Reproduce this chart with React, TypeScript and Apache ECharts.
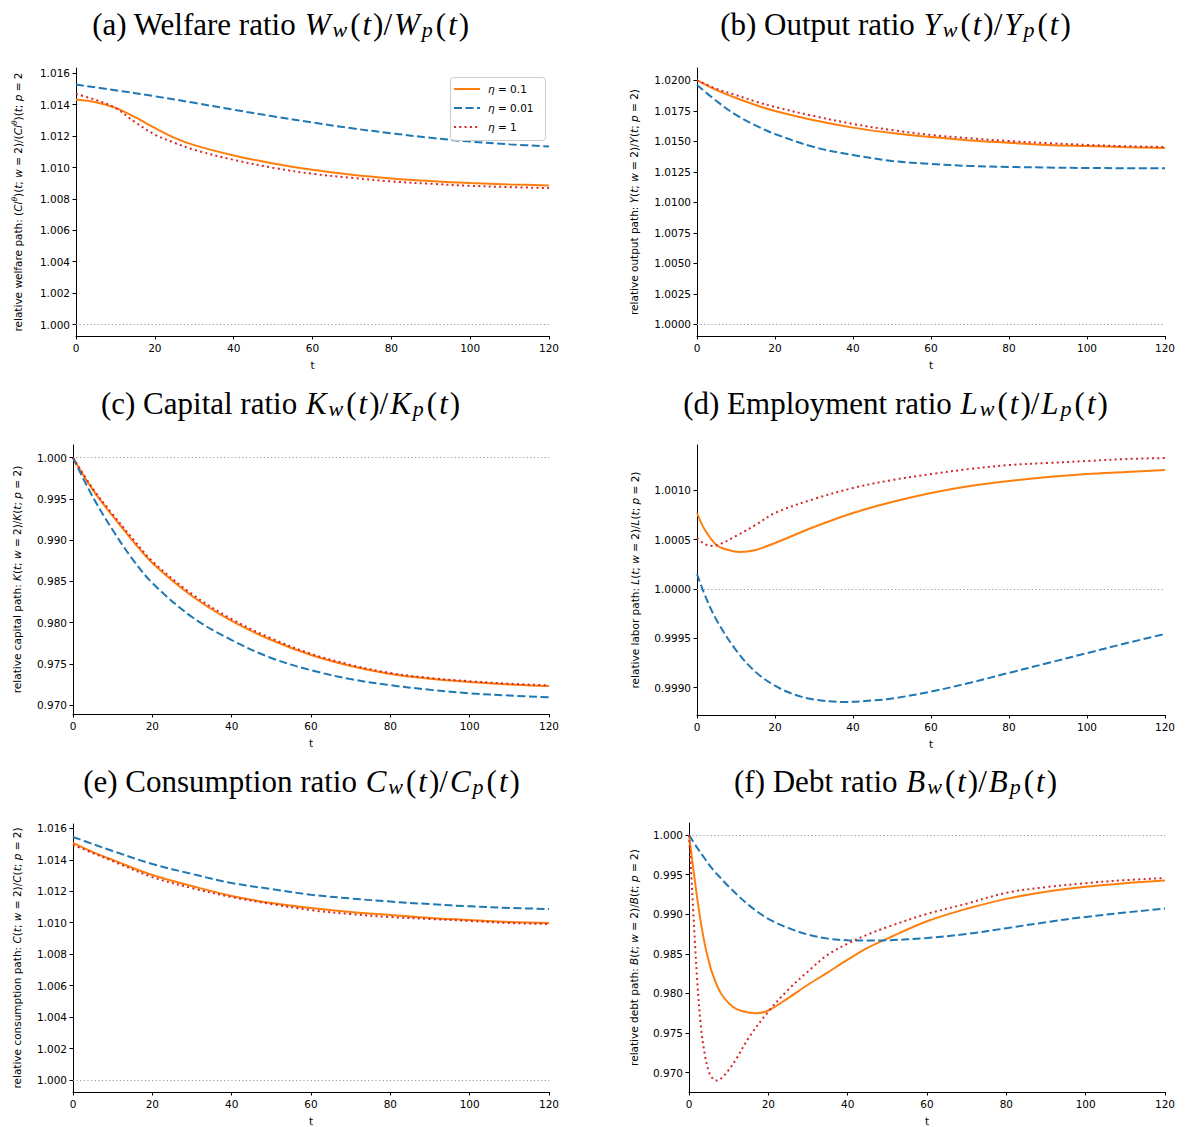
import React, { useEffect, useRef } from 'react';
import * as echarts from 'echarts';

// ---------- data ----------
const SERIES_NAMES = ['η = 0.1', 'η = 0.01', 'η = 1'];

// (a) welfare ratio
const A_T = [0, 5, 10, 15, 20, 25, 30, 40, 50, 60, 70, 80, 90, 100, 110, 120];
const A_ETA01 = [1.014326, 1.014156, 1.013796, 1.013203, 1.01252, 1.011889, 1.011423, 1.010766, 1.010257, 1.009854, 1.009536, 1.009303, 1.009134, 1.009007, 1.008922, 1.008858];
const A_ETA1 = [1.014686, 1.014305, 1.013796, 1.012885, 1.012101, 1.011571, 1.011126, 1.01049, 1.009982, 1.0096, 1.009346, 1.009113, 1.008964, 1.008837, 1.008752, 1.008689];
const A_T_B = [0, 10, 20, 30, 40, 50, 60, 70, 80, 90, 100, 110, 120];
const A_ETA001 = [1.01528, 1.01492, 1.01454, 1.01412, 1.01368, 1.01326, 1.01287, 1.0125, 1.01218, 1.01189, 1.01165, 1.01148, 1.01134];

// (b) output ratio
const B_T = [0, 5, 10, 15, 20, 30, 40, 50, 60, 70, 80, 90, 100, 110, 120];
const B_ETA01 = [1.02002, 1.0192, 1.01855, 1.01798, 1.01748, 1.01672, 1.01612, 1.01568, 1.01535, 1.01507, 1.01488, 1.0147, 1.01461, 1.01452, 1.01445];
const B_ETA001 = [1.01961, 1.0183, 1.01716, 1.0163, 1.0156, 1.01453, 1.01388, 1.01339, 1.01314, 1.01298, 1.0129, 1.01285, 1.01281, 1.0128, 1.0128];
const B_ETA1 = [1.0200, 1.0193, 1.01879, 1.01826, 1.01781, 1.01707, 1.01642, 1.01592, 1.01552, 1.01525, 1.01502, 1.01485, 1.0147, 1.0146, 1.01453];

// (c) capital ratio
const C_T = [0, 5, 10, 15, 20, 30, 40, 50, 60, 70, 80, 90, 100, 110, 120];
const C_ETA01 = [1.0, 0.99609, 0.99293, 0.98995, 0.98723, 0.98322, 0.98019, 0.97788, 0.97606, 0.97473, 0.97376, 0.97318, 0.97279, 0.9725, 0.9723];
const C_ETA001 = [1.0, 0.99523, 0.99123, 0.9877, 0.9848, 0.98067, 0.97788, 0.9757, 0.97422, 0.97314, 0.9724, 0.97185, 0.97142, 0.97115, 0.97094];
const C_ETA1 = [1.0, 0.99625, 0.99315, 0.9902, 0.98745, 0.98345, 0.98043, 0.97808, 0.97622, 0.97487, 0.97388, 0.97328, 0.97288, 0.97258, 0.97238];

// (d) employment ratio
const D_T_O = [0, 2, 5, 8, 11, 15, 20, 30, 40, 50, 60, 70, 80, 90, 100, 110, 120];
const D_ETA01 = [1.00077, 1.0006, 1.000446, 1.000395, 1.000375, 1.000395, 1.000466, 1.000628, 1.00077, 1.000881, 1.000973, 1.001044, 1.001094, 1.001135, 1.001165, 1.001185, 1.001206];
const D_T_B = [0, 2, 5, 10, 15, 20, 25, 30, 38, 45, 50, 60, 70, 80, 90, 100, 110, 120];
const D_ETA001 = [1.000152, 0.99994, 0.999686, 0.99938, 0.99916, 0.99902, 0.99893, 0.99888, 0.998855, 0.99887, 0.99889, 0.99896, 0.99905, 0.99915, 0.99925, 0.99935, 0.99945, 0.999544];
const D_T_R = [0, 2, 4, 6, 10, 15, 20, 30, 40, 50, 60, 70, 80, 90, 100, 110, 120];
const D_ETA1 = [1.000517, 1.000456, 1.000436, 1.000456, 1.000537, 1.000648, 1.00077, 1.000912, 1.001023, 1.001104, 1.001165, 1.001216, 1.001256, 1.001277, 1.001297, 1.001317, 1.001327];

// (e) consumption ratio
const E_T = [0, 5, 10, 20, 30, 40, 50, 60, 70, 80, 90, 100, 110, 120];
const E_ETA01 = [1.01507, 1.01449, 1.01399, 1.01303, 1.01233, 1.0117, 1.01125, 1.01093, 1.01068, 1.01049, 1.0103, 1.01017, 1.01004, 1.00998];
const E_ETA001 = [1.01545, 1.015, 1.01456, 1.01373, 1.0131, 1.01252, 1.01214, 1.01178, 1.01154, 1.01134, 1.01118, 1.01104, 1.01094, 1.01087];
const E_ETA1 = [1.01494, 1.01443, 1.01392, 1.0129, 1.0122, 1.01163, 1.01119, 1.0108, 1.01055, 1.01036, 1.01023, 1.01011, 1.00998, 1.00992];

// (f) debt ratio
const F_T_O = [0, 1, 2, 3, 4, 5, 6, 8, 10, 12, 15, 17, 20, 25, 30, 35, 40, 45, 50, 60, 70, 80, 90, 100, 110, 120];
const F_ETA01 = [1.0, 0.99608, 0.99228, 0.9889, 0.98616, 0.98405, 0.98236, 0.98004, 0.97878, 0.97802, 0.9776, 0.97751, 0.97785, 0.97941, 0.9811, 0.98266, 0.98426, 0.98574, 0.98692, 0.98911, 0.99068, 0.99194, 0.99283, 0.99346, 0.99392, 0.99426];
const F_T_B = [0, 2, 4, 6, 8, 10, 15, 20, 25, 30, 35, 40, 45, 50, 60, 70, 80, 90, 100, 110, 120];
const F_ETA001 = [1.0, 0.99844, 0.997, 0.99565, 0.99456, 0.9935, 0.99118, 0.98941, 0.98827, 0.98743, 0.98692, 0.98671, 0.98667, 0.98671, 0.987, 0.98751, 0.98823, 0.98899, 0.98966, 0.99021, 0.99072];
const F_T_R = [0, 0.5, 1, 2, 3, 4, 5, 6, 7, 8, 10, 12, 15, 20, 25, 30, 35, 40, 45, 50, 60, 70, 80, 90, 100, 110, 120];
const F_ETA1 = [1.0, 0.99565, 0.99101, 0.98215, 0.97582, 0.97224, 0.97013, 0.96925, 0.969, 0.96922, 0.97034, 0.97181, 0.97435, 0.97772, 0.98046, 0.98278, 0.98489, 0.98629, 0.98743, 0.98838, 0.99004, 0.99133, 0.9927, 0.99342, 0.99392, 0.9943, 0.99456];

// tick labels
const X_TICKS = [0, 20, 40, 60, 80, 100, 120];
const A_TICKS = [1.0, 1.002, 1.004, 1.006, 1.008, 1.01, 1.012, 1.014, 1.016];
const B_TICKS = [1.0, 1.0025, 1.005, 1.0075, 1.01, 1.0125, 1.015, 1.0175, 1.02];
const C_TICKS = [0.97, 0.975, 0.98, 0.985, 0.99, 0.995, 1.0];
const D_TICKS = [0.999, 0.9995, 1.0, 1.0005, 1.001];
const E_TICKS = [1.0, 1.002, 1.004, 1.006, 1.008, 1.01, 1.012, 1.014, 1.016];
const F_TICKS = [0.97, 0.975, 0.98, 0.985, 0.99, 0.995, 1.0];

// ---------- styling ----------
const ORANGE = '#ff7f0e';
const BLUE = '#1f77b4';
const RED = '#d62728';
const SANS = 'DejaVu Sans';
const SERIF = 'Liberation Serif';

const pair = (t: number[], v: number[]) => t.map((x, i) => [x, v[i]]);

const panels = [
  {
    grid: { left: 76, top: 68, width: 473, height: 268 }, ymin: 0.999268, ymax: 1.016338, ticks: A_TICKS, dec: 3, gap: 51,
    yname: 'relative welfare path: ({i|Cl}{s|θ})({i|t}; {i|w} = 2)/({i|Cl}{s|θ})({i|t}; {i|p} = 2',
    title: ['(a) Welfare ratio ', 'W'], tx: 281, ty: 24,
    lines: [pair(A_T, A_ETA01), pair(A_T_B, A_ETA001), pair(A_T, A_ETA1)],
  },
  {
    grid: { left: 697, top: 68, width: 468, height: 268 }, ymin: 0.999041, ymax: 1.021008, ticks: B_TICKS, dec: 4, gap: 58,
    yname: 'relative output path: {i|Y}({i|t}; {i|w} = 2)/{i|Y}({i|t}; {i|p} = 2)',
    title: ['(b) Output ratio ', 'Y'], tx: 896, ty: 24,
    lines: [pair(B_T, B_ETA01), pair(B_T, B_ETA001), pair(B_T, B_ETA1)],
  },
  {
    grid: { left: 73, top: 445, width: 476, height: 269 }, ymin: 0.968907, ymax: 1.001541, ticks: C_TICKS, dec: 3, gap: 51,
    yname: 'relative capital path: {i|K}({i|t}; {i|w} = 2)/{i|K}({i|t}; {i|p} = 2)',
    title: ['(c) Capital ratio ', 'K'], tx: 281, ty: 403,
    lines: [pair(C_T, C_ETA01), pair(C_T, C_ETA001), pair(C_T, C_ETA1)],
  },
  {
    grid: { left: 697, top: 445, width: 468, height: 270 }, ymin: 0.998723, ymax: 1.001459, ticks: D_TICKS, dec: 4, gap: 57,
    yname: 'relative labor path: {i|L}({i|t}; {i|w} = 2)/{i|L}({i|t}; {i|p} = 2)',
    title: ['(d) Employment ratio ', 'L'], tx: 896, ty: 403,
    lines: [pair(D_T_O, D_ETA01), pair(D_T_B, D_ETA001), pair(D_T_R, D_ETA1)],
  },
  {
    grid: { left: 73, top: 824, width: 476, height: 268 }, ymin: 0.999237, ymax: 1.016274, ticks: E_TICKS, dec: 3, gap: 51,
    yname: 'relative consumption path: {i|C}({i|t}; {i|w} = 2)/{i|C}({i|t}; {i|p} = 2)',
    title: ['(e) Consumption ratio ', 'C'], tx: 302, ty: 781,
    lines: [pair(E_T, E_ETA01), pair(E_T, E_ETA001), pair(E_T, E_ETA1)],
  },
  {
    grid: { left: 689, top: 823, width: 476, height: 269 }, ymin: 0.967559, ymax: 1.001515, ticks: F_TICKS, dec: 3, gap: 50,
    yname: 'relative debt path: {i|B}({i|t}; {i|w} = 2)/{i|B}({i|t}; {i|p} = 2)',
    title: ['(f) Debt ratio ', 'B'], tx: 896, ty: 781,
    lines: [pair(F_T_O, F_ETA01), pair(F_T_B, F_ETA001), pair(F_T_R, F_ETA1)],
  },
];

const LINE_STYLES = [
  { color: ORANGE, type: 'solid' as any, dash: null as any },
  { color: BLUE, type: [8, 3.5] as any, dash: [8, 3.5] },
  { color: RED, type: [2, 3.3] as any, dash: [2, 3.3] },
];

function titleRich(parts: string[]) {
  const v = parts[1];
  return parts[0] + `{i|${v}}{b|w}{m|(}{i|t}{m|)/}{i|${v}}{b|p}{m|(}{i|t}{m|)}`;
}

function buildOption() {
  const nameRich = {
    i: { fontFamily: SANS, fontSize: 10.5, fontStyle: 'italic', color: '#000' },
    s: { fontFamily: SANS, fontSize: 7.5, fontStyle: 'italic', color: '#000', padding: [0, 0, 7, 0] },
  };
  const axisCommon = {
    axisLine: { show: true, onZero: false, lineStyle: { color: '#000', width: 1 } },
    axisTick: { show: true, inside: false, length: 3.5, lineStyle: { color: '#000', width: 1 } },
    splitLine: { show: false },
  };
  const grids: any[] = [];
  const xAxes: any[] = [];
  const yAxes: any[] = [];
  const series: any[] = [];
  const graphics: any[] = [];

  panels.forEach((p, k) => {
    grids.push({ ...p.grid, containLabel: false });
    xAxes.push({
      type: 'value', gridIndex: k, min: 0, max: 120, interval: 20,
      ...axisCommon,
      axisLabel: { show: true, margin: 6, fontFamily: SANS, fontSize: 10.5, color: '#000',
        customValues: X_TICKS },
      axisTick: { ...axisCommon.axisTick, customValues: X_TICKS },
      name: 't', nameLocation: 'middle', nameGap: 23,
      nameTextStyle: { fontFamily: SANS, fontSize: 10.5, color: '#000' },
    });
    yAxes.push({
      type: 'value', gridIndex: k, min: p.ymin, max: p.ymax,
      ...axisCommon,
      axisTick: { ...axisCommon.axisTick, customValues: p.ticks },
      axisLabel: {
        show: true, margin: 6, fontFamily: SANS, fontSize: 10.5, color: '#000',
        customValues: p.ticks,
        formatter: (v: number) => v.toFixed(p.dec),
      },
      name: p.yname, nameLocation: 'middle', nameRotate: 90, nameGap: p.gap,
      nameTextStyle: { fontFamily: SANS, fontSize: 10.5, color: '#000', rich: nameRich },
    });
    p.lines.forEach((data, j) => {
      const ls = LINE_STYLES[j];
      series.push({
        type: 'line', name: SERIES_NAMES[j], xAxisIndex: k, yAxisIndex: k,
        data, symbol: 'none', showSymbol: false, smooth: 0.35,
        lineStyle: { color: ls.color, width: 2, type: ls.type, cap: 'butt' },
        itemStyle: { color: ls.color },
        z: 3 + j,
        silent: true,
        markLine: j === 0 ? {
          silent: true, symbol: ['none', 'none'], label: { show: false },
          lineStyle: { color: '#9a9a9a', width: 1, type: [1.2, 2.4] },
          data: [{ yAxis: 1 }],
          z: 1,
        } : undefined,
      });
    });
    graphics.push({
      type: 'text', x: p.tx, y: p.ty,
      style: {
        text: titleRich(p.title),
        fontFamily: SERIF, fontSize: 31, fill: '#000',
        align: 'center', verticalAlign: 'middle',
        textAlign: 'center', textVerticalAlign: 'middle',
        rich: {
          i: { fontFamily: SERIF, fontSize: 31, fontStyle: 'italic', fill: '#000', padding: [0, 1, 0, 1] },
          m: { fontFamily: SERIF, fontSize: 31, fill: '#000', padding: [0, 1, 0, 1] },
          b: { fontFamily: SERIF, fontSize: 22, fontStyle: 'italic', fill: '#000', padding: [11, 2, 0, 1] },
        },
      },
    });
  });

  // manual legend (matplotlib style) inside panel (a)
  const LX = 450, LY = 77;
  graphics.push({
    type: 'rect', shape: { x: LX + 0.5, y: LY + 0.5, width: 95, height: 63, r: 3 },
    style: { fill: 'rgba(255,255,255,0.8)', stroke: '#cccccc', lineWidth: 1 }, z: 10,
  });
  SERIES_NAMES.forEach((name, j) => {
    const ls = LINE_STYLES[j];
    const cy = LY + 12 + j * 19;
    graphics.push({
      type: 'line', shape: { x1: LX + 4, y1: cy, x2: LX + 30, y2: cy },
      style: { stroke: ls.color, lineWidth: 2, lineDash: ls.dash, lineCap: 'butt' }, z: 11,
    });
    graphics.push({
      type: 'text', x: LX + 38, y: cy,
      style: {
        text: '{i|η}' + name.slice(1),
        fontFamily: SANS, fontSize: 10.5, fill: '#000',
        verticalAlign: 'middle', textVerticalAlign: 'middle',
        rich: { i: { fontFamily: SANS, fontSize: 10.5, fontStyle: 'italic', fill: '#000' } },
      },
      z: 11,
    });
  });

  return {
    animation: false,
    backgroundColor: '#fff',
    grid: grids,
    xAxis: xAxes,
    yAxis: yAxes,
    series,
    graphic: graphics,
  };
}

export default function App() {
  const ref = useRef<HTMLDivElement>(null);
  useEffect(() => {
    if (!ref.current) return;
    const chart = echarts.init(ref.current, undefined, { renderer: 'svg' });
    chart.setOption(buildOption() as any);
    return () => chart.dispose();
  }, []);
  return (
    <div
      ref={ref}
      style={{ position: 'absolute', left: 0, top: 0, width: 1186, height: 1127, background: '#fff' }}
    />
  );
}
